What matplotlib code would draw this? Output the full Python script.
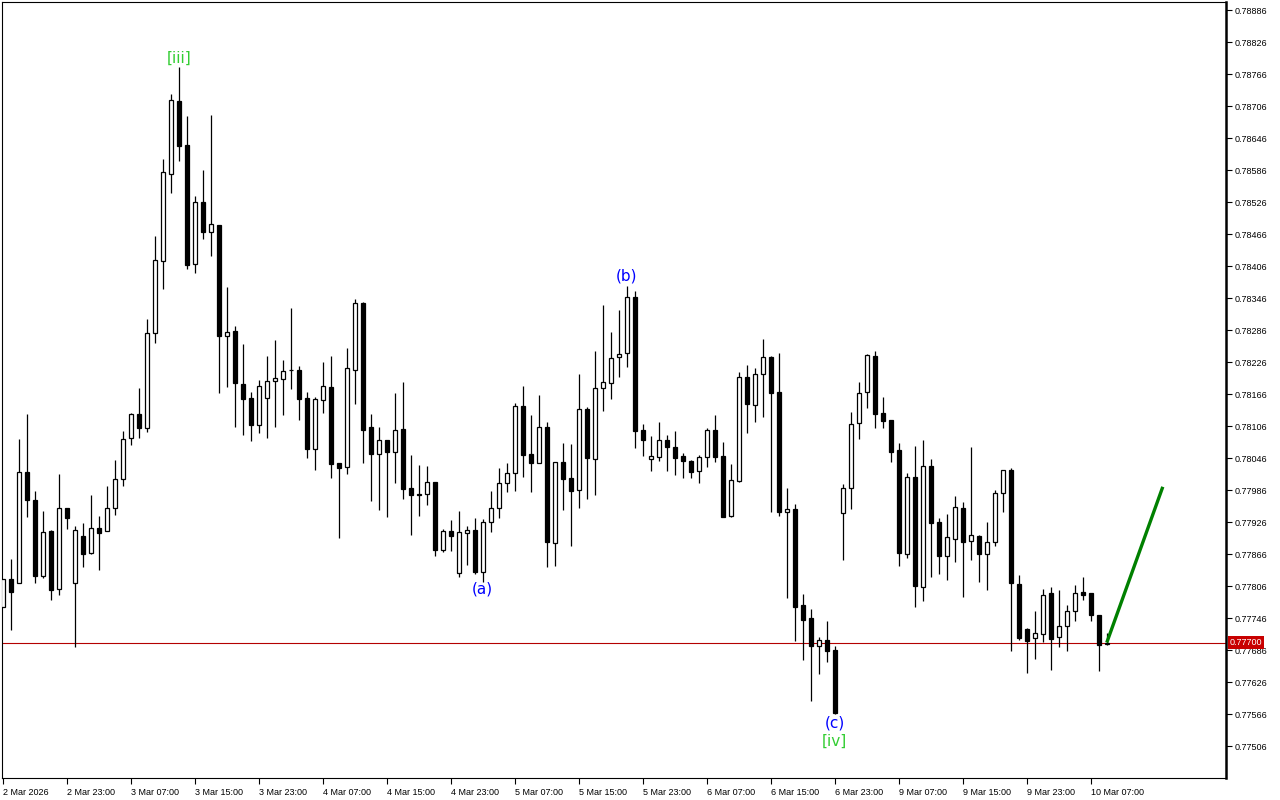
import numpy as np
import matplotlib
matplotlib.use("Agg")
import matplotlib.pyplot as plt
from matplotlib import transforms

plt.rcParams['font.family'] = ['Liberation Sans', 'DejaVu Sans']

# hourly bars, 2 Mar 15:00 -> 10 Mar 09:00 (weekend skipped)
opens = [0.77767, 0.77819, 0.77812, 0.78020, 0.77967, 0.77825, 0.77909, 0.77800, 0.77952, 0.77812,
         0.77900, 0.77868, 0.77915, 0.77909, 0.77952, 0.78007, 0.78084, 0.78129, 0.78102, 0.78280,
         0.78415, 0.78579, 0.78715, 0.78633, 0.78410, 0.78526, 0.78470, 0.78483, 0.78275, 0.78284,
         0.78185, 0.78159, 0.78108, 0.78159, 0.78190, 0.78194, 0.78211, 0.78211, 0.78159, 0.78063,
         0.78155, 0.78179, 0.78037, 0.78029, 0.78211, 0.78337, 0.78104, 0.78054, 0.78080, 0.78057,
         0.78100, 0.77990, 0.77979, 0.77979, 0.78001, 0.77874, 0.77909, 0.77830, 0.77905, 0.77911,
         0.77832, 0.77926, 0.77952, 0.77999, 0.78018, 0.78144, 0.78054, 0.78037, 0.78104, 0.77887,
         0.78039, 0.78009, 0.77986, 0.78138, 0.78044, 0.78177, 0.78187, 0.78235, 0.78243, 0.78348,
         0.78099, 0.78044, 0.78048, 0.78080, 0.78067, 0.78050, 0.78040, 0.78022, 0.78048, 0.78099,
         0.78050, 0.77937, 0.78003, 0.78198, 0.78145, 0.78204, 0.78235, 0.78170, 0.77945, 0.77950,
         0.77770, 0.77746, 0.77694, 0.77705, 0.77686, 0.77943, 0.77990, 0.78112, 0.78170, 0.78237,
         0.78130, 0.78117, 0.78061, 0.77866, 0.78010, 0.77804, 0.78031, 0.77926, 0.77862, 0.77894,
         0.77952, 0.77890, 0.77900, 0.77866, 0.77889, 0.77980, 0.78024, 0.77810, 0.77725, 0.77709,
         0.77716, 0.77793, 0.77710, 0.77731, 0.77759, 0.77795, 0.77793, 0.77752, 0.77697]
highs = [0.77819, 0.77857, 0.78082, 0.78129, 0.77984, 0.77947, 0.77911, 0.78016, 0.77952, 0.77919,
         0.77924, 0.77977, 0.77937, 0.77994, 0.78042, 0.78097, 0.78130, 0.78177, 0.78307, 0.78462,
         0.78607, 0.78729, 0.78779, 0.78687, 0.78537, 0.78586, 0.78689, 0.78483, 0.78367, 0.78294,
         0.78260, 0.78170, 0.78192, 0.78237, 0.78267, 0.78230, 0.78327, 0.78219, 0.78170, 0.78160,
         0.78226, 0.78237, 0.78037, 0.78252, 0.78344, 0.78339, 0.78129, 0.78104, 0.78080, 0.78168,
         0.78189, 0.78052, 0.78033, 0.78031, 0.78001, 0.77913, 0.77930, 0.77947, 0.77919, 0.77934,
         0.77932, 0.77984, 0.78027, 0.78037, 0.78149, 0.78181, 0.78127, 0.78164, 0.78114, 0.78039,
         0.78074, 0.78072, 0.78204, 0.78142, 0.78247, 0.78333, 0.78282, 0.78324, 0.78369, 0.78359,
         0.78110, 0.78087, 0.78114, 0.78089, 0.78097, 0.78055, 0.78042, 0.78052, 0.78102, 0.78127,
         0.78076, 0.78035, 0.78207, 0.78220, 0.78215, 0.78269, 0.78237, 0.78243, 0.77990, 0.77960,
         0.77791, 0.77763, 0.77710, 0.77740, 0.77694, 0.77997, 0.78132, 0.78189, 0.78241, 0.78247,
         0.78160, 0.78117, 0.78074, 0.78018, 0.78069, 0.78080, 0.78044, 0.77934, 0.77941, 0.77975,
         0.77964, 0.78067, 0.77902, 0.77926, 0.77986, 0.78024, 0.78027, 0.77827, 0.77727, 0.77759,
         0.77800, 0.77804, 0.77799, 0.77770, 0.77808, 0.77823, 0.77793, 0.77752, 0.77718]
lows = [0.77767, 0.77724, 0.77812, 0.77935, 0.77812, 0.77821, 0.77780, 0.77789, 0.77913, 0.77692,
        0.77842, 0.77866, 0.77836, 0.77909, 0.77939, 0.77994, 0.78070, 0.78084, 0.78095, 0.78262,
        0.78363, 0.78543, 0.78603, 0.78400, 0.78393, 0.78457, 0.78425, 0.78168, 0.78179, 0.78104,
        0.78089, 0.78078, 0.78093, 0.78084, 0.78104, 0.78127, 0.78175, 0.78117, 0.78046, 0.78024,
        0.78130, 0.78009, 0.77896, 0.78016, 0.78147, 0.78037, 0.77965, 0.77949, 0.77935, 0.77999,
        0.77969, 0.77902, 0.77937, 0.77958, 0.77862, 0.77870, 0.77872, 0.77823, 0.77845, 0.77829,
        0.77814, 0.77907, 0.77934, 0.77982, 0.77984, 0.78010, 0.77982, 0.78037, 0.77842, 0.77844,
        0.77949, 0.77881, 0.77952, 0.77969, 0.77977, 0.78134, 0.78157, 0.78198, 0.78217, 0.78065,
        0.78050, 0.78022, 0.78040, 0.78022, 0.78014, 0.78009, 0.78009, 0.77999, 0.78029, 0.78039,
        0.77935, 0.77935, 0.78001, 0.78093, 0.78114, 0.78123, 0.77945, 0.77937, 0.77784, 0.77703,
        0.77667, 0.77590, 0.77641, 0.77664, 0.77566, 0.77855, 0.77950, 0.78082, 0.78140, 0.78102,
        0.78102, 0.78039, 0.77844, 0.77859, 0.77767, 0.77778, 0.77823, 0.77829, 0.77817, 0.77851,
        0.77785, 0.77855, 0.77814, 0.77799, 0.77881, 0.77945, 0.77684, 0.77705, 0.77643, 0.77669,
        0.77701, 0.77649, 0.77692, 0.77684, 0.77740, 0.77780, 0.77740, 0.77647, 0.77695]
closes = [0.77819, 0.77795, 0.78020, 0.77967, 0.77825, 0.77907, 0.77799, 0.77952, 0.77934, 0.77911,
          0.77866, 0.77915, 0.77905, 0.77952, 0.78007, 0.78082, 0.78129, 0.78102, 0.78280, 0.78417,
          0.78582, 0.78717, 0.78631, 0.78408, 0.78526, 0.78470, 0.78485, 0.78275, 0.78282, 0.78187,
          0.78157, 0.78108, 0.78181, 0.78190, 0.78196, 0.78209, 0.78211, 0.78157, 0.78063, 0.78157,
          0.78181, 0.78035, 0.78027, 0.78215, 0.78337, 0.78099, 0.78054, 0.78080, 0.78057, 0.78099,
          0.77988, 0.77977, 0.77977, 0.78001, 0.77874, 0.77909, 0.77900, 0.77907, 0.77911, 0.77832,
          0.77926, 0.77952, 0.77999, 0.78018, 0.78144, 0.78052, 0.78037, 0.78104, 0.77889, 0.78039,
          0.78007, 0.77984, 0.78138, 0.78046, 0.78177, 0.78189, 0.78234, 0.78241, 0.78348, 0.78097,
          0.78080, 0.78050, 0.78080, 0.78067, 0.78046, 0.78040, 0.78020, 0.78048, 0.78099, 0.78048,
          0.77935, 0.78005, 0.78198, 0.78147, 0.78204, 0.78235, 0.78168, 0.77945, 0.77950, 0.77767,
          0.77742, 0.77694, 0.77705, 0.77684, 0.77568, 0.77990, 0.78110, 0.78168, 0.78239, 0.78129,
          0.78115, 0.78057, 0.77868, 0.78010, 0.77806, 0.78031, 0.77924, 0.77862, 0.77898, 0.77954,
          0.77889, 0.77902, 0.77866, 0.77889, 0.77980, 0.78024, 0.77812, 0.77709, 0.77703, 0.77718,
          0.77789, 0.77707, 0.77731, 0.77759, 0.77793, 0.77789, 0.77752, 0.77695, 0.77700]

time_labels = ["2 Mar 2026", "2 Mar 23:00", "3 Mar 07:00", "3 Mar 15:00", "3 Mar 23:00",
               "4 Mar 07:00", "4 Mar 15:00", "4 Mar 23:00", "5 Mar 07:00", "5 Mar 15:00",
               "5 Mar 23:00", "6 Mar 07:00", "6 Mar 15:00", "6 Mar 23:00", "9 Mar 07:00",
               "9 Mar 15:00", "9 Mar 23:00", "10 Mar 07:00"]
label_step = 8  # one time label every 8 bars

current_price = 0.77700
# projected move (green line): from last bar to 7 bars ahead
proj_bars = [138, 145]
proj_prices = [0.77700, 0.77992]

# wave labels: (text, bar, price, colour)
wave_labels = [("[iii]", 22, 0.78796, '#32CD32'),
               ("(a)", 60, 0.77800, '#0000FF'),
               ("(b)", 78, 0.78387, '#0000FF'),
               ("(c)", 104, 0.77549, '#0000FF'),
               ("[iv]", 104, 0.77514, '#32CD32')]

o = np.array(opens); h = np.array(highs); l = np.array(lows); c = np.array(closes)
x = np.arange(len(o))

fig = plt.figure(figsize=(12.8, 8), dpi=100)
ax = fig.add_axes([2/1280, 22/800, 1224/1280, 776/800])

# wicks
ax.vlines(x, l, h, color='black', lw=0.9, zorder=2)
# bodies
up = c >= o
ax.bar(x[up], c[up] - o[up], bottom=o[up], width=0.55, color='white',
       edgecolor='black', linewidth=0.9, zorder=3)
ax.bar(x[~up], o[~up] - c[~up], bottom=c[~up], width=0.55, color='black',
       edgecolor='black', linewidth=0.9, zorder=3)

# current price line
ax.axhline(current_price, color='#b40000', lw=0.8, zorder=1)

# projection
ax.plot(proj_bars, proj_prices, color='#008000', lw=2.4, solid_capstyle='butt', zorder=4)

for txt, bi, pr, col in wave_labels:
    ax.text(bi, pr, txt, color=col, fontsize=11, ha='center', va='center',
            family=['DejaVu Sans'])

ax.set_xlim(-0.09, 152.9)
ax.set_ylim(0.77446, 0.78901)

# axes styling
yt = 0.77506 + 0.0006 * np.arange(24)
ax.yaxis.tick_right()
ax.set_yticks(yt)
ax.set_yticklabels(['%.5f' % v for v in yt])
xt = np.arange(len(time_labels)) * label_step
ax.set_xticks(xt)
ax.set_xticklabels(time_labels, ha='left')
ax.tick_params(axis='both', direction='out', length=4, width=0.8, labelsize=6.5, pad=2)
ax.tick_params(axis='x', pad=3)
for s in ['left', 'top', 'bottom']:
    ax.spines[s].set_linewidth(0.8)
ax.spines['right'].set_linewidth(1.8)

# current price tag on the axis
trans = transforms.blended_transform_factory(ax.transAxes, ax.transData)
ax.text(1.003, current_price, '%.5f' % current_price, transform=trans, color='white',
        fontsize=6.5, ha='left', va='center',
        bbox=dict(facecolor='#c80000', edgecolor='none', pad=1.2), zorder=10, clip_on=False)

fig.savefig('out.png', dpi=100, facecolor='white')
